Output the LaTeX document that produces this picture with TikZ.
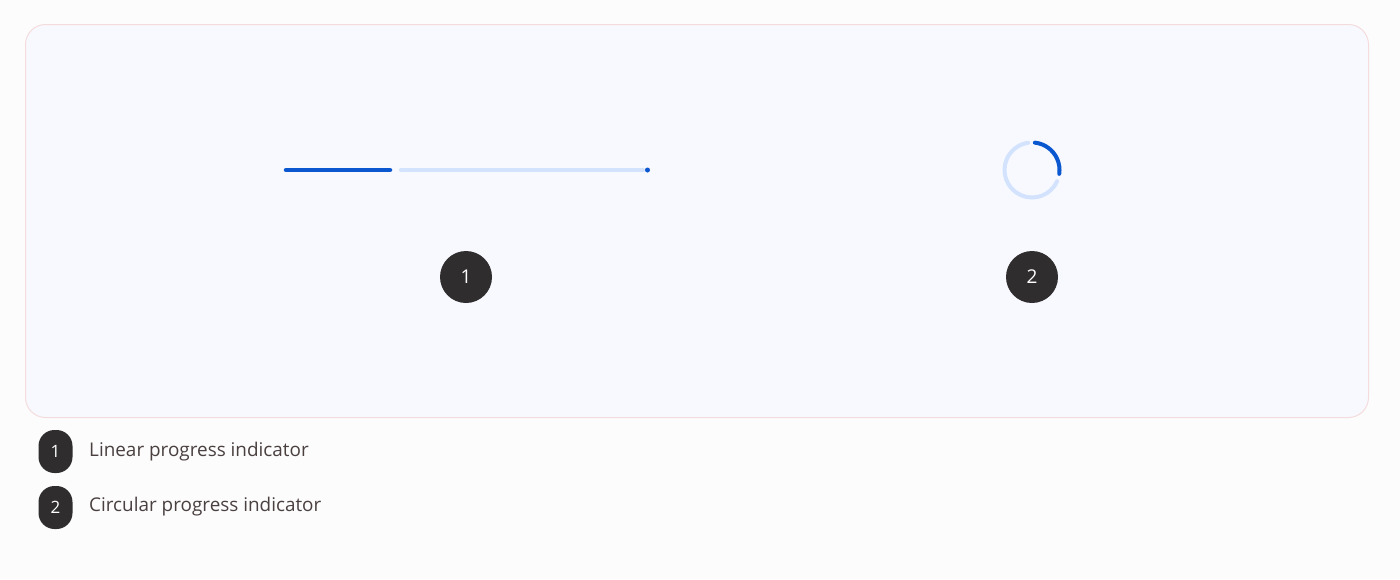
\documentclass[tikz,border=0pt]{standalone}
\usepackage{fontspec}
\setmainfont{Open Sans}
\definecolor{pagebg}{HTML}{FCFCFD}
\definecolor{cardbg}{HTML}{F8F9FF}
\definecolor{cardline}{HTML}{F4DCDC}
\definecolor{active}{HTML}{0B57D0}
\definecolor{track}{HTML}{D3E3FD}
\definecolor{badge}{HTML}{2F2D2D}
\definecolor{legtext}{HTML}{4A4040}
\tikzset{
  badgecirc/.style={circle, fill=badge, minimum size=52pt, inner sep=0pt, text=white, font=\fontsize{19}{21}\selectfont},
  legbadge/.style={rounded corners=16pt, fill=badge, minimum width=34pt, minimum height=43pt, inner sep=0pt, text=white, font=\fontsize{17}{19}\selectfont},
  legtxt/.style={anchor=west, inner sep=0pt, text=legtext, font=\fontsize{18.9}{21}\selectfont},
  bar/.style={line width=4.5pt, line cap=round},
}
\begin{document}
\begin{tikzpicture}[x=1pt,y=-1pt]
\fill[pagebg] (0,0) rectangle (1400,579);
\useasboundingbox (0,0) rectangle (1400,579);
\draw[cardline, fill=cardbg, line width=1pt, rounded corners=20pt] (25.5,24.5) rectangle (1368.5,417.5);
% linear indicator
\coordinate (la) at (286,170);
\coordinate (lb) at (390,170);
\coordinate (lc) at (401,170);
\coordinate (ld) at (643,170);
\draw[bar, active] (la) -- (lb);
\draw[bar, track] (lc) -- (ld);
\node[circle, fill=active, minimum size=5pt, inner sep=0pt] (stop) at (647.5,170) {};
% circular indicator (y axis points down, so angles are mirrored)
\coordinate (cc) at (1032,170);
\draw[active, line width=4pt, line cap=round] ([shift={(-84:27.5)}]cc) arc[start angle=-84, end angle=8, radius=27.5];
\draw[track, line width=4pt, line cap=round] ([shift={(24:27.5)}]cc) arc[start angle=24, end angle=262, radius=27.5];
% badges
\node[badgecirc] (b1) at (466,277) {1};
\node[badgecirc] (b2) at (1032,277) {2};
% legend
\node[legbadge] (l1) at (55.5,451.5) {1};
\node[legbadge] (l2) at (55.5,507.5) {2};
\node[legtxt] (t1) at (89,452) {Linear progress indicator};
\node[legtxt] (t2) at (89,507) {Circular progress indicator};
\end{tikzpicture}
\end{document}
